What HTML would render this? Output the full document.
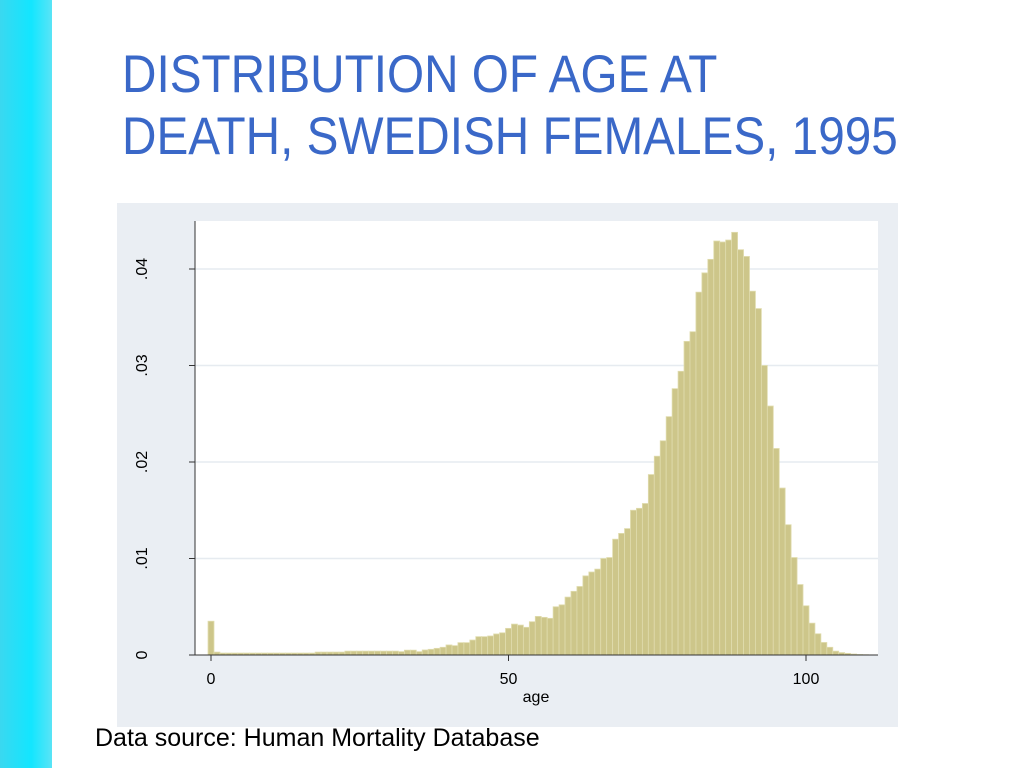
<!DOCTYPE html>
<html><head><meta charset="utf-8"><style>
body{margin:0;width:1024px;height:768px;background:#fff;position:relative;overflow:hidden;font-family:"Liberation Sans",sans-serif}
#strip{position:absolute;left:0;top:0;width:52px;height:768px;background:linear-gradient(90deg,#3ad8f0,#12e6ff 60%,#5ae4f6)}
#title{position:absolute;left:122px;top:44px;font-size:53px;line-height:62px;color:#3a68c8;margin:0;font-weight:normal;transform:scaleX(0.9);transform-origin:0 0;white-space:nowrap}
#src{position:absolute;left:95px;top:724px;font-size:25px;color:#000}
</style></head><body>
<div id="strip"></div>
<h1 id="title">DISTRIBUTION OF AGE AT<br>DEATH, SWEDISH FEMALES, 1995</h1>
<svg id="chart" width="1024" height="768" style="position:absolute;left:0;top:0">
<rect x="117" y="203" width="781" height="524" fill="#eaeef3"/>
<rect x="195" y="221" width="683" height="434" fill="#fff"/>
<g id="grid"></g><g id="bars"></g><g id="axes"></g>
</svg>
<div id="src">Data source: Human Mortality Database</div>
<script>
const ages=[];for(let a=0;a<=110;a++)ages.push(a);
const density=[35,3,2,2,2,2,2,2,2,2,2,2,2,2,2,2,2,2,3,3,3,3,3,4,4,4,4,4,4,4,4,4,3.5,5,5,3.5,5.2,5.9,6.9,8,10.4,9.7,12.8,12.8,15.5,19,19,19.7,21.8,23,27.6,32,31,28.7,34.5,40,39,38,50,52,60,66,71,82,86,89,100,101,120,126,131,150,152,157,187,206,222,247,276,294,325,335,376,396,410,429,428,430,438,420,413,377,359,300,258,214,173,135,101,73,51,33,22,13,8,4,2.5,1.7,1,0.5,0.3].map(v=>v/10000);
const yTicks=[0,0.01,0.02,0.03,0.04];
const yTickLabels=["0",".01",".02",".03",".04"];
const xTicks=[0,50,100];
const xTickLabels=["0","50","100"];
const X=a=>211+a*5.95, Y=v=>655-v*9650;
const ns="http://www.w3.org/2000/svg";
function mk(t,at,p){const e=document.createElementNS(ns,t);for(const k in at)e.setAttribute(k,at[k]);p.appendChild(e);return e;}
const grid=document.getElementById('grid'),bars=document.getElementById('bars'),axes=document.getElementById('axes');
yTicks.forEach((v,i)=>{
 if(v>0){const g=mk('line',{x1:195,x2:878,y1:Y(v),y2:Y(v),stroke:'#e6ebf0','stroke-width':1.5},grid);
 
 }
 const t=mk('line',{x1:189,x2:195,y1:Y(v),y2:Y(v),stroke:'#333'},axes);
 
 
 const l=mk('text',{x:0,y:0,transform:`translate(147,${Y(v)}) rotate(-90)`,'text-anchor':'middle','font-size':16,fill:'#000'},axes);
 l.textContent=yTickLabels[i];
 
 
});
ages.forEach((a,i)=>{
 const v=density[i];const r=mk('rect',{x:X(a)-2.97,y:Y(v),width:5.95,height:655-Y(v),fill:'#cdc68a',stroke:'#e0dcae','stroke-width':0.8},bars);
 
 
});
const ya=mk('line',{x1:195,x2:195,y1:221,y2:655,stroke:'#333'},axes);


const xa=mk('line',{x1:195,x2:878,y1:655,y2:655,stroke:'#333'},axes);


xTicks.forEach((v,i)=>{
 const t=mk('line',{x1:X(v),x2:X(v),y1:655,y2:661,stroke:'#333'},axes);
 
 
 const l=mk('text',{x:X(v),y:684,'text-anchor':'middle','font-size':16,fill:'#000'},axes);
 l.textContent=xTickLabels[i];
 
 
});
const xt=mk('text',{x:536,y:702,'text-anchor':'middle','font-size':16,fill:'#000'},axes);
xt.textContent='age';


</script>
</body></html>
